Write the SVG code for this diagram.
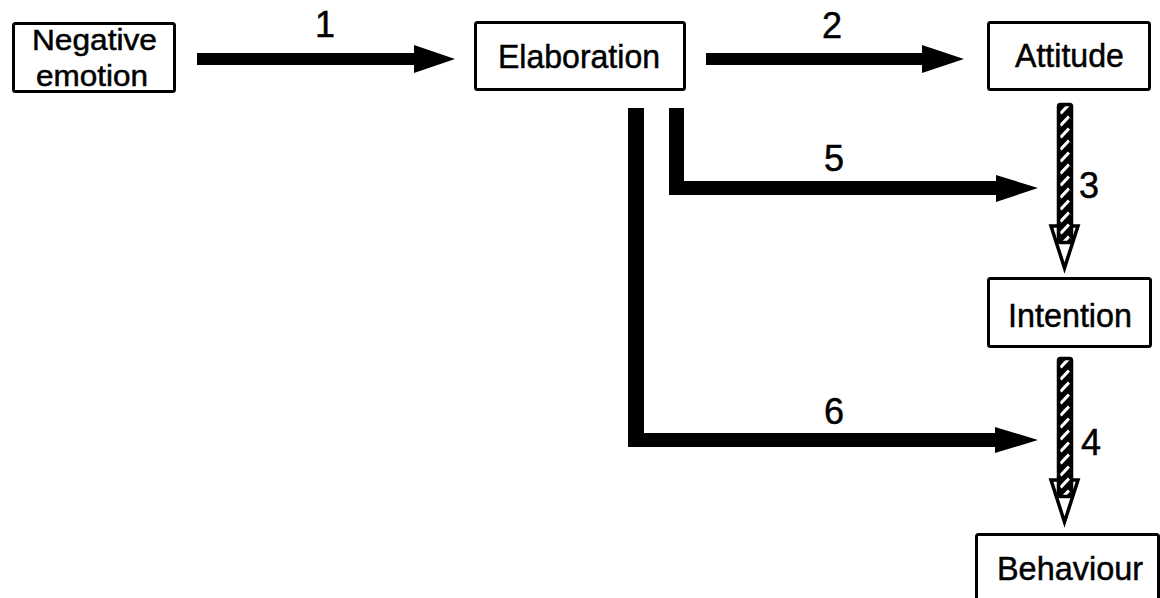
<svg xmlns="http://www.w3.org/2000/svg" width="1160" height="598" viewBox="0 0 1160 598">
<style>
.box{fill:#fff;stroke:#000;stroke-width:3}
.lbl{font-family:"Liberation Sans",Arial,sans-serif;font-size:34px;fill:#000;stroke:#000;stroke-width:0.5;text-anchor:middle}
.num{font-family:"Liberation Sans",Arial,sans-serif;font-size:36px;fill:#000;stroke:#000;stroke-width:0.5;text-anchor:middle}
.arr{fill:#000;stroke:none}
</style>
<defs>
<pattern id="hatch" patternUnits="userSpaceOnUse" x="0" y="0" width="16" height="12">
<rect width="16" height="12" fill="#000"/>
<line x1="3.5" y1="10.5" x2="12" y2="1.5" stroke="#fff" stroke-width="3.2"/>
</pattern>
<g id="hatchArrow">
<polygon points="-6,123 21,123 7.5,165" fill="#fff" stroke="#000" stroke-width="3.5" stroke-linejoin="miter"/>
<rect x="1.5" y="1.5" width="13" height="138" rx="2" fill="url(#hatch)" stroke="#000" stroke-width="3.5"/>
</g>
</defs>
<rect width="1160" height="598" fill="#fff"/>

<g id="connectors">
<polygon class="arr" points="197,53 414,53 414,45 455,59 414,73 414,65 197,65"/>
<polygon class="arr" points="706,53 922,53 922,45 964,59 922,73 922,65 706,65"/>
<polygon class="arr" points="669,108 684,108 684,181 996,181 996,175 1038,188 996,202 996,195 669,195"/>
<polygon class="arr" points="628,108 644,108 644,433 995,433 995,427 1038,440 995,453 995,447 628,447"/>
<use href="#hatchArrow" transform="translate(1057,103)"/>
<use href="#hatchArrow" transform="translate(1057,357)"/>
<text class="num" x="325" y="37">1</text>
<text class="num" x="832" y="38">2</text>
<text class="num" x="1089" y="198">3</text>
<text class="num" x="1091" y="455">4</text>
<text class="num" x="834" y="171">5</text>
<text class="num" x="834" y="424">6</text>
</g>

<g id="node-negative-emotion">
<rect class="box" x="13.5" y="23.5" width="161" height="68" rx="2"/>
<text class="lbl" style="font-size:29px" x="94.5" y="50" textLength="125" lengthAdjust="spacingAndGlyphs">Negative</text>
<text class="lbl" style="font-size:29px" x="92" y="86" textLength="112" lengthAdjust="spacingAndGlyphs">emotion</text>
</g>
<g id="node-elaboration">
<rect class="box" x="475.5" y="22.5" width="209" height="67" rx="2"/>
<text class="lbl" x="579" y="68" textLength="162" lengthAdjust="spacingAndGlyphs">Elaboration</text>
</g>
<g id="node-attitude">
<rect class="box" x="988.5" y="22.5" width="161" height="67" rx="2"/>
<text class="lbl" x="1069.5" y="67" textLength="109" lengthAdjust="spacingAndGlyphs">Attitude</text>
</g>
<g id="node-intention">
<rect class="box" x="988.5" y="278.5" width="162" height="68" rx="2"/>
<text class="lbl" x="1070" y="327" textLength="124" lengthAdjust="spacingAndGlyphs">Intention</text>
</g>
<g id="node-behaviour">
<rect class="box" x="976.5" y="534.5" width="182" height="80" rx="2"/>
<text class="lbl" x="1070" y="580" textLength="146" lengthAdjust="spacingAndGlyphs">Behaviour</text>
</g>
</svg>
